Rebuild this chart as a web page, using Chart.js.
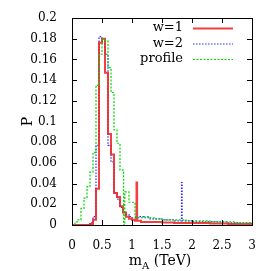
<!DOCTYPE html>
<html>
<head>
<meta charset="utf-8">
<script src="https://cdn.jsdelivr.net/npm/chart.js@4"></script>
<style>
  body { margin: 0; background: #fff; }
  canvas { display: block; }
</style>
</head>
<body>
<canvas id="chart" width="277" height="271"></canvas>
<script>
// histogram bins: left edge (TeV) and probability, last entry closes the range
const w1Edges = [0, 0.30, 0.35, 0.40, 0.45, 0.50, 0.55, 0.60, 0.65, 0.70, 0.75, 0.80, 0.85, 0.90, 0.95, 1.00, 1.05, 1.075, 1.085, 1.15, 1.30, 1.50, 1.70, 2.00, 2.30, 2.60, 3.00];
const w1Vals  = [0, 0.001, 0.005, 0.035, 0.176, 0.180, 0.147, 0.088, 0.068, 0.031, 0.027, 0.018, 0.012, 0.008, 0.006, 0.005, 0.004, 0.041, 0.004, 0.003, 0.003, 0.0025, 0.002, 0.002, 0.0015, 0.001, 0.001];

const w2Edges = [0, 0.30, 0.35, 0.40, 0.45, 0.50, 0.55, 0.60, 0.65, 0.70, 0.75, 0.80, 0.85, 0.90, 0.95, 1.00, 1.10, 1.20, 1.30, 1.40, 1.50, 1.60, 1.70, 1.825, 1.835, 2.00, 2.30, 2.60, 3.00];
const w2Vals  = [0, 0.002, 0.008, 0.077, 0.182, 0.178, 0.165, 0.077, 0.061, 0.031, 0.025, 0.017, 0.012, 0.010, 0.008, 0.007, 0.008, 0.007, 0.006, 0.006, 0.005, 0.005, 0.004, 0.041, 0.004, 0.003, 0.003, 0.002, 0.002];

const profEdges = [0, 0.05, 0.10, 0.15, 0.20, 0.25, 0.30, 0.35, 0.40, 0.45, 0.50, 0.55, 0.60, 0.65, 0.70, 0.75, 0.80, 0.86, 0.88, 0.95, 1.05, 1.10, 1.20, 1.30, 1.40, 1.50, 1.70, 1.90, 2.10, 2.30, 2.50, 2.70, 3.00];
const profVals  = [0, 0.003, 0.005, 0.016, 0.026, 0.037, 0.051, 0.070, 0.135, 0.165, 0.180, 0.178, 0.152, 0.128, 0.092, 0.079, 0.053, 0, 0.032, 0.022, 0.008, 0.007, 0.008, 0.007, 0.006, 0.005, 0.005, 0.004, 0.004, 0.003, 0.003, 0.002, 0.002];

const seriesNames = ["w=1", "w=2", "profile"];
const xTicks = [0, 0.5, 1, 1.5, 2, 2.5, 3];
const yTicks = [0, 0.02, 0.04, 0.06, 0.08, 0.1, 0.12, 0.14, 0.16, 0.18, 0.2];

const serif = "'DejaVu Serif', 'Liberation Serif', serif";

function pts(edges, vals) {
  return edges.map((x, i) => ({ x: x, y: vals[i] }));
}

// box, inward ticks on all four sides, legend and x title
const frame = {
  id: "frame",
  afterDraw(chart) {
    const ctx = chart.ctx;
    const a = chart.chartArea;
    const xs = chart.scales.x, ys = chart.scales.y;
    ctx.save();
    ctx.strokeStyle = "#000";
    ctx.lineWidth = 1;
    ctx.strokeRect(Math.round(a.left) + 0.5, Math.round(a.top) + 0.5,
                   Math.round(a.right - a.left), Math.round(a.bottom - a.top));
    ctx.beginPath();
    const tl = 5;
    xTicks.forEach(v => {
      const px = Math.round(xs.getPixelForValue(v)) + 0.5;
      ctx.moveTo(px, a.bottom); ctx.lineTo(px, a.bottom - tl);
      ctx.moveTo(px, a.top); ctx.lineTo(px, a.top + tl);
    });
    yTicks.forEach(v => {
      const py = Math.round(ys.getPixelForValue(v)) + 0.5;
      ctx.moveTo(a.left, py); ctx.lineTo(a.left + tl, py);
      ctx.moveTo(a.right, py); ctx.lineTo(a.right - tl, py);
    });
    ctx.stroke();

    // legend
    ctx.font = "13px " + serif;
    ctx.fillStyle = "#000";
    ctx.textAlign = "right";
    ctx.textBaseline = "middle";
    chart.data.datasets.forEach((ds, i) => {
      const y = a.top + 10 + i * 15.5;
      ctx.fillText(ds.label, a.left + 111, y);
      ctx.beginPath();
      ctx.strokeStyle = ds.borderColor;
      ctx.lineWidth = ds.borderWidth;
      ctx.setLineDash(ds.borderDash || []);
      ctx.moveTo(a.left + 121, y + 0.5);
      ctx.lineTo(a.left + 161, y + 0.5);
      ctx.stroke();
    });
    ctx.setLineDash([]);

    // x title with subscript
    const cx = (a.left + a.right) / 2 - 2;
    const ty = 265;
    ctx.textAlign = "left";
    ctx.textBaseline = "alphabetic";
    ctx.font = "14px " + serif;
    const w1 = ctx.measureText("m").width;
    ctx.font = "10px " + serif;
    const w2 = ctx.measureText("A").width;
    ctx.font = "14px " + serif;
    const w3 = ctx.measureText(" (TeV)").width;
    let x0 = cx - (w1 + w2 + w3) / 2;
    ctx.fillText("m", x0, ty);
    ctx.font = "10px " + serif;
    ctx.fillText("A", x0 + w1, ty + 4);
    ctx.font = "14px " + serif;
    ctx.fillText(" (TeV)", x0 + w1 + w2, ty);
    ctx.restore();
  }
};

new Chart(document.getElementById("chart"), {
  type: "line",
  data: {
    datasets: [
      { label: seriesNames[0], data: pts(w1Edges, w1Vals), borderColor: "rgba(240,30,30,0.85)",
        borderWidth: 2, stepped: true, pointRadius: 0, order: 1 },
      { label: seriesNames[1], data: pts(w2Edges, w2Vals), borderColor: "#2a2aff",
        borderWidth: 1.2, borderDash: [1.5, 1.5], stepped: true, pointRadius: 0, order: 2 },
      { label: seriesNames[2], data: pts(profEdges, profVals), borderColor: "#00d800",
        borderWidth: 1.2, borderDash: [2, 1.5], stepped: true, pointRadius: 0, order: 0 }
    ]
  },
  options: {
    responsive: false,
    animation: false,
    layout: { padding: { left: 0, right: 25, top: 18, bottom: 0 } },
    plugins: { legend: { display: false }, tooltip: { enabled: false } },
    scales: {
      x: {
        type: "linear",
        min: 0, max: 3,
        afterBuildTicks: s => { s.ticks = xTicks.map(v => ({ value: v })); },
        afterFit: s => { s.height = 46; },
        grid: { display: false },
        border: { display: false },
        ticks: { color: "#000", font: { family: serif, size: 12 }, padding: 6,
                 maxRotation: 0, callback: v => String(+v.toFixed(2)) }
      },
      y: {
        min: 0, max: 0.2,
        afterBuildTicks: s => { s.ticks = yTicks.map(v => ({ value: v })); },
        afterFit: s => { s.width = 72; },
        grid: { display: false },
        border: { display: false },
        ticks: { color: "#000", font: { family: serif, size: 12 }, padding: 7,
                 callback: v => String(+v.toFixed(2)) },
        title: { display: true, text: "P", color: "#000", font: { family: serif, size: 14 },
                 padding: { top: 20, bottom: 0 } }
      }
    }
  },
  plugins: [frame]
});
</script>
</body>
</html>
